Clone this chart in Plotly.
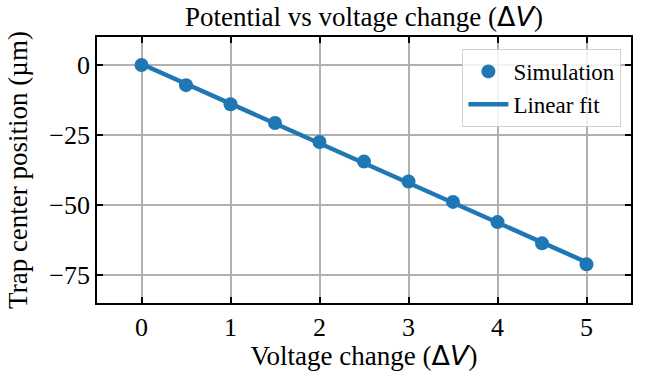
import numpy as np
import plotly.graph_objects as go

# Applied voltage change (ΔV) and simulated trap centre position (µm)
voltage = [0.0, 0.5, 1.0, 1.5, 2.0, 2.5, 3.0, 3.5, 4.0, 4.5, 5.0]
position = [0.0, -7.2, -14.0, -20.7, -27.5, -34.5, -41.6, -48.9, -56.1, -63.7, -71.2]
x_ticks = [0, 1, 2, 3, 4, 5]
y_ticks = [0, -25, -50, -75]

# Least-squares straight line through the simulated points
slope, intercept = np.polyfit(voltage, position, 1)
fit_x = np.array([voltage[0], voltage[-1]])
fit_y = slope * fit_x + intercept

BLUE = "#1f77b4"
SERIF = "Liberation Serif, Times New Roman, serif"
DV = "<span style='font-family:DejaVu Sans'>Δ<i>V</i></span>"

fig = go.Figure()
fig.add_trace(go.Scatter(
    x=voltage, y=position, mode="markers", name="Simulation",
    marker=dict(color=BLUE, size=14),
))
fig.add_trace(go.Scatter(
    x=fit_x, y=fit_y, mode="lines", name="Linear fit",
    line=dict(color=BLUE, width=4.5),
))

axis_common = dict(
    showline=True, linecolor="black", linewidth=1.6, mirror="ticks",
    ticks="inside", ticklen=6, tickwidth=1.6, tickcolor="black",
    showgrid=True, gridcolor="#b0b0b0", gridwidth=1.5,
    zeroline=False, automargin=False,
    tickfont=dict(family=SERIF, size=26, color="black"),
)

fig.update_layout(
    width=655, height=371,
    margin=dict(l=97, r=24, t=37, b=68),
    paper_bgcolor="white", plot_bgcolor="white",
    title=dict(
        text=f"Potential vs voltage change ({DV})",
        font=dict(family=SERIF, size=27, color="black"),
        x=(97 + 631) / 2 / 655, xanchor="center", y=0.955, yanchor="middle",
    ),
    xaxis=dict(
        range=[-0.5, 5.5], tickvals=x_ticks,
        title=dict(text=f"Voltage change ({DV})",
                   font=dict(family=SERIF, size=27, color="black"), standoff=2),
        **axis_common,
    ),
    yaxis=dict(
        range=[-85, 10], tickvals=y_ticks,
        ticktext=["0" if v == 0 else "\u2212" + str(abs(v)) for v in y_ticks],
        title=dict(text="Trap center position (µm)",
                   font=dict(family=SERIF, size=27, color="black"), standoff=14),
        **axis_common,
    ),
    legend=dict(
        x=0.982, y=0.955, xanchor="right", yanchor="top",
        bgcolor="rgba(255,255,255,0.85)", bordercolor="#d0d0d0", borderwidth=1,
        font=dict(family=SERIF, size=23, color="black"),
        itemwidth=40, tracegroupgap=2,
    ),
    showlegend=True,
)

fig.write_html("out.html")
